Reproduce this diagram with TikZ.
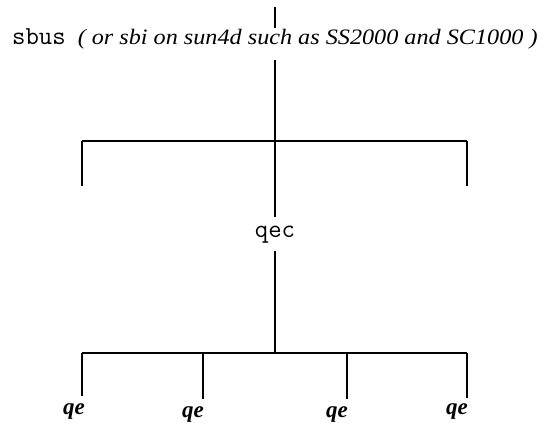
\documentclass[tikz,border=0pt]{standalone}
\usepackage{graphicx}
\usepackage{fontspec}
\setmainfont{Liberation Serif}
\begin{document}
\begin{tikzpicture}[x=1pt,y=-1pt,
  wire/.style={line width=1.1pt,black},
  mono/.style={font=\fontsize{26}{28}\selectfont\ttfamily,inner xsep=0pt,inner ysep=8pt},
  qelabel/.style={font=\fontsize{23}{26}\selectfont\bfseries\itshape,inner sep=0pt,anchor=base east}]
\useasboundingbox (0,0) rectangle (545,425);
% top
\coordinate (top) at (275,7);
\coordinate (topend) at (275,28);
\node[anchor=base west,inner sep=0pt] (sbus) at (12,45)
  {\fontsize{26}{28}\selectfont\ttfamily sbus\hspace{12pt}\rmfamily\itshape\fontsize{22}{26}\selectfont\scalebox{1.1}[1]{( or sbi on sun4d such as SS2000 and SC1000 )}};
\coordinate (down) at (275,60);
\draw[wire] (top) -- (topend);
\node[mono,anchor=base] (qec) at (275,237) {qec};
\draw[wire] (down) -- (qec);
% upper bus
\coordinate (ub) at (275,141);
\coordinate (ubL) at (82,141);
\coordinate (ubR) at (467,141);
\coordinate (udL) at (82,186);
\coordinate (udR) at (467,186);
\draw[wire] (ubL) -- (ubR);
\draw[wire] (ubL) -- (udL);
\draw[wire] (ubR) -- (udR);
% lower bus
\coordinate (lb) at (275,353);
\coordinate (lbL) at (82,353);
\coordinate (lbR) at (467,353);
\draw[wire] (qec) -- (lb);
\draw[wire] (lbL) -- (lbR);
\coordinate (d1) at (82,396);
\coordinate (c2) at (203,353);
\coordinate (d2) at (203,399);
\coordinate (c3) at (347,353);
\coordinate (d3) at (347,399);
\coordinate (d4) at (467,398);
\draw[wire] (lbL) -- (d1);
\draw[wire] (c2) -- (d2);
\draw[wire] (c3) -- (d3);
\draw[wire] (lbR) -- (d4);
\node[qelabel] (qe1) at (85,414) {qe};
\node[qelabel] (qe2) at (204,417) {qe};
\node[qelabel] (qe3) at (348,417) {qe};
\node[qelabel] (qe4) at (468,414) {qe};
\end{tikzpicture}
\end{document}
